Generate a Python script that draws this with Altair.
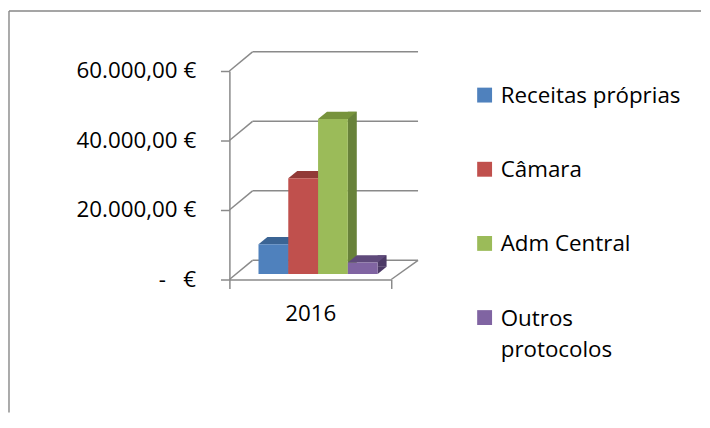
import altair as alt
import pandas as pd

# ---- data ----
series = ["Receitas próprias", "Câmara", "Adm Central", "Outros protocolos"]
values = [8600, 27600, 44600, 3300]
years = ["2016"]
y_ticks = [0, 20000, 40000, 60000]

front_colors = ["#4F81BD", "#C0504D", "#9BBB59", "#8064A2"]
top_colors = ["#3B6494", "#923A37", "#77933C", "#5F4A7B"]
side_colors = ["#385D8A", "#7F302D", "#68823A", "#4C3A66"]

df = pd.DataFrame({"series": series, "value": values, "year": years * len(series)})
ticks_df = pd.DataFrame({"tick": y_ticks})
one = alt.Data(values=[{"a": 1}])

# ---- layout / style ----
W, H = 163, 210
DXB, DYB = 23.3, -19.3      # back wall depth offset
BX, BY = 7.8, -5.5          # front face of bars depth offset
SX, SY = 9, -7.3            # bar depth
HALF = 15                   # half bar width (band step 30)
GRAY = "#8A8A8A"
FRAME = "#878787"
FONT = "Open Sans"
FS = 22.5

yscale = alt.Scale(domain=[0, 60000], nice=False, zero=True)
xscale = alt.Scale(type="band", domain=series, paddingInner=0, paddingOuter=0.7167)

nb = "\u00a0"
yaxis = alt.Axis(
    values=y_ticks, grid=False, tickSize=9, tickColor=GRAY, tickWidth=1.5,
    domainColor=GRAY, domainWidth=1.5, labelFont=FONT, labelFontSize=FS,
    labelColor="black", labelPadding=25, title=None, labelOverlap=False,
    labelExpr="datum.value == 0 ? '-" + nb * 3 + "€' : format(datum.value / 1000, 'd') + '.000,00 €'",
)

xs = alt.X("series:N", scale=xscale, axis=None)

frame_top = alt.Chart(one).mark_rule(color=FRAME, strokeWidth=1.4).encode(
    x=alt.value(-222), x2=alt.value(475), y=alt.value(-60.5))
frame_left = alt.Chart(one).mark_rule(color=FRAME, strokeWidth=1.4).encode(
    x=alt.value(-222), y=alt.value(-60.5), y2=alt.value(344))

diag = alt.Chart(ticks_df).mark_rule(color=GRAY, strokeWidth=1.5, y2Offset=DYB).encode(
    x=alt.value(0), x2=alt.value(DXB),
    y=alt.Y("tick:Q", scale=yscale, axis=yaxis), y2="tick:Q")
back = alt.Chart(ticks_df).mark_rule(color=GRAY, strokeWidth=1.5, yOffset=DYB).encode(
    x=alt.value(DXB), x2=alt.value(W + 27),
    y=alt.Y("tick:Q", scale=yscale, axis=yaxis))
floor_r = alt.Chart(ticks_df).transform_filter("datum.tick == 0").mark_rule(
    color=GRAY, strokeWidth=1.5, y2Offset=DYB).encode(
    x=alt.value(W), x2=alt.value(W + 27),
    y=alt.Y("tick:Q", scale=yscale, axis=yaxis), y2="tick:Q")

year_layer = alt.Chart(pd.DataFrame({"year": years})).mark_point(opacity=0).encode(
    x=alt.X("year:N", scale=alt.Scale(type="band", paddingInner=0, paddingOuter=0),
            axis=alt.Axis(tickBand="extent", tickSize=9, tickColor=GRAY, tickWidth=1.5,
                          domainColor=GRAY, domainWidth=1.5, labelFont=FONT,
                          labelFontSize=FS, labelColor="black", labelPadding=14,
                          title=None, labelAngle=0, grid=False)))

sides = alt.Chart(df).mark_bar(
    width=SX, xOffset=BX + HALF + SX / 2, yOffset=BY + SY, y2Offset=BY + SY).encode(
    x=xs, y=alt.Y("value:Q", scale=yscale, axis=yaxis),
    color=alt.Color("series:N", scale=alt.Scale(domain=series, range=side_colors), legend=None))

s = 1.0 / HALF
TRI = f"M1,{SY*s:.3f}L1,0L{1+SX*s:.3f},{SY*s:.3f}Z"
TOP = f"M-1,0L1,0L{1+SX*s:.3f},{SY*s:.3f}L{-1+SX*s:.3f},{SY*s:.3f}Z"

tri = alt.Chart(df).mark_point(
    shape=TRI, size=(2 * HALF) ** 2, filled=True, opacity=1, strokeWidth=0,
    xOffset=BX, yOffset=BY).encode(
    x=xs, y=alt.Y(datum=0, scale=yscale, axis=yaxis),
    color=alt.Color("series:N", scale=alt.Scale(domain=series, range=side_colors), legend=None))

tops = alt.Chart(df).mark_point(
    shape=TOP, size=(2 * HALF) ** 2, filled=True, opacity=1, strokeWidth=0,
    xOffset=BX, yOffset=BY).encode(
    x=xs, y=alt.Y("value:Q", scale=yscale, axis=yaxis),
    color=alt.Color("series:N", scale=alt.Scale(domain=series, range=top_colors), legend=None))

legend = alt.Legend(
    orient="none", legendX=245.8, legendY=21, title=None, padding=0,
    symbolType="M-1,-2.067L1,-2.067L1,-0.067L-1,-0.067Z", symbolSize=225,
    symbolStrokeWidth=0, symbolOpacity=1,
    labelFont=FONT, labelFontSize=FS, labelColor="black", labelLimit=400,
    labelOffset=5, rowPadding=51.7, labelBaseline="alphabetic",
    labelExpr="datum.label == 'Outros protocolos' ? ['Outros', 'protocolos'] : datum.label",
)

front = alt.Chart(df).mark_bar(xOffset=BX, x2Offset=BX, yOffset=BY, y2Offset=BY).encode(
    x=xs, y=alt.Y("value:Q", scale=yscale, axis=yaxis),
    color=alt.Color("series:N", scale=alt.Scale(domain=series, range=front_colors), legend=legend))

chart = alt.layer(
    frame_top, frame_left, diag, back, floor_r, year_layer, sides, tri, tops, front
).resolve_scale(x="independent", color="independent").properties(
    width=W, height=H, padding=0, background="white"
).configure(style={"guide-label": {"lineHeight": 32}}).configure_view(stroke=None)

chart.save("out.html", embed_options={"renderer": "svg", "actions": False})
